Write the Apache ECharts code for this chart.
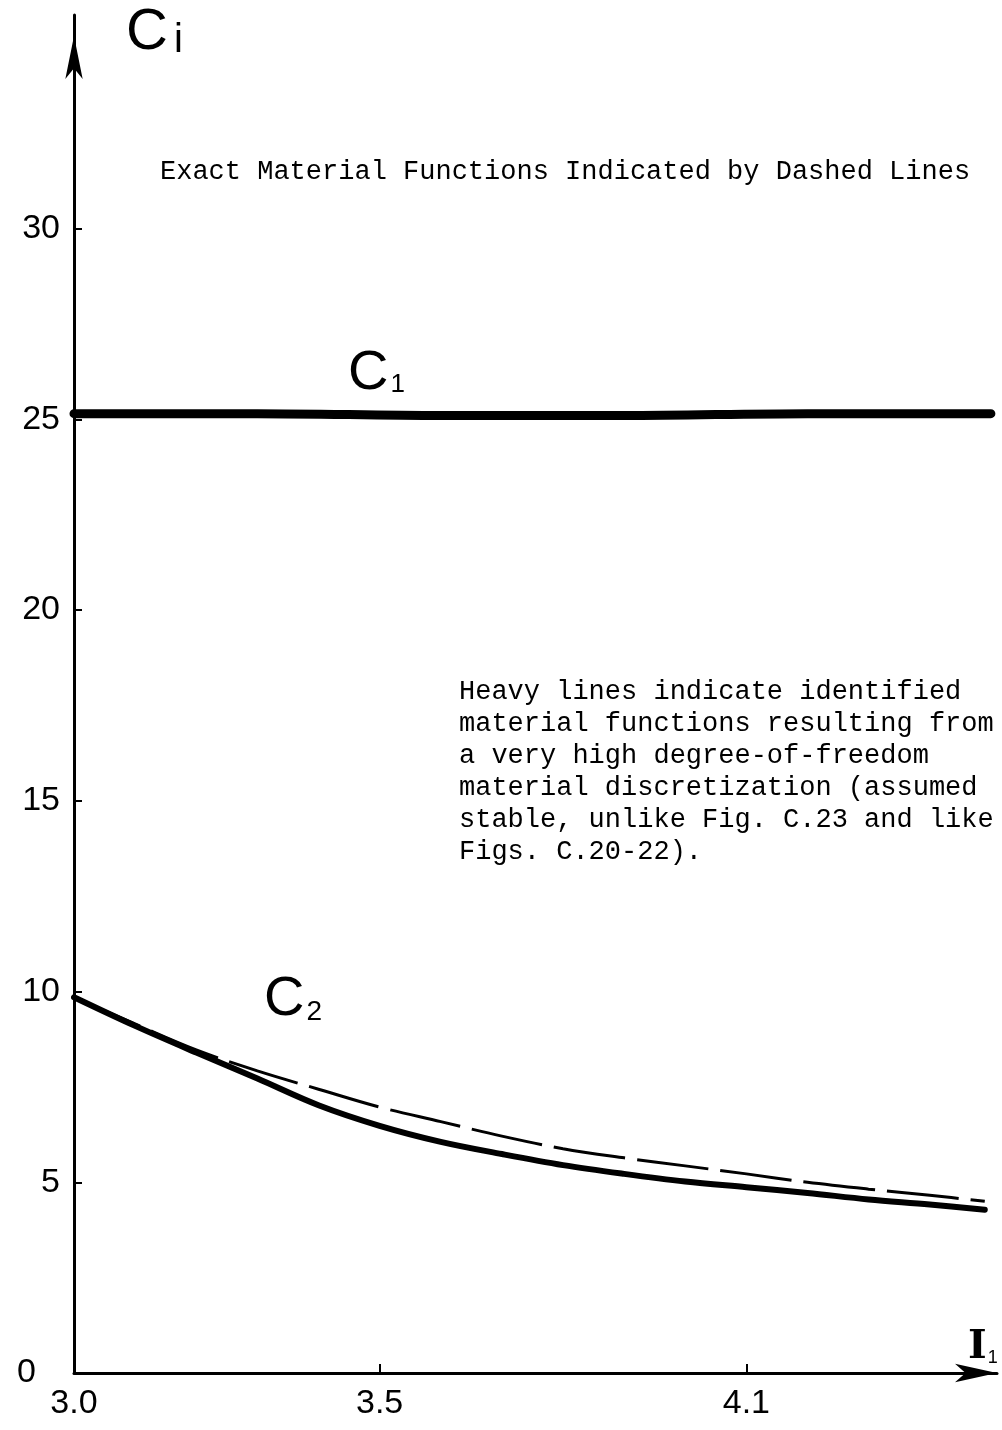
<!DOCTYPE html>
<html>
<head>
<meta charset="utf-8">
<title>Identified material functions C1, C2 vs I1</title>
<script src="https://cdn.jsdelivr.net/npm/echarts@6/dist/echarts.min.js"></script>
<style>
  html, body { margin: 0; padding: 0; background: #ffffff; }
  #chart { width: 1002px; height: 1430px; }
</style>
</head>
<body>
<div id="chart"></div>
<script>
// Invariant I1 sample points
const c1I1 = [3.0, 3.3, 3.6, 3.9, 4.2, 4.5];
const c2I1 = [3.0, 3.1, 3.2, 3.3, 3.4, 3.5, 3.6, 3.7, 3.8, 3.9, 4.0, 4.1, 4.2, 4.3, 4.4, 4.49];

// Heavy lines: identified material functions
const c1Identified = [25.15, 25.15, 25.1, 25.1, 25.15, 25.15];
const c2Identified = [9.85, 9.1, 8.4, 7.72, 7.02, 6.48, 6.06, 5.74, 5.45, 5.22, 5.02, 4.87, 4.72, 4.55, 4.42, 4.28];

// Dashed lines: exact material functions
const c1Exact = [25.1, 25.1, 25.05, 25.05, 25.1, 25.1];
const c2Exact = [9.85, 9.15, 8.47, 7.92, 7.44, 6.97, 6.59, 6.21, 5.88, 5.64, 5.43, 5.22, 5.0, 4.82, 4.66, 4.5];

// Axis ticks and labels
const xTickValues = [3.5, 4.1];
const xLabelValues = [3.0, 3.5, 4.1];
const yTickValues = [5, 10, 15, 20, 25, 30];
const yLabelValues = [0, 5, 10, 15, 20, 25, 30];

const noteTitle = 'Exact Material Functions Indicated by Dashed Lines';
const noteLines = [
  'Heavy lines indicate identified',
  'material functions resulting from',
  'a very high degree-of-freedom',
  'material discretization (assumed',
  'stable, unlike Fig. C.23 and like',
  'Figs. C.20-22).'
];

const pair = (xs, ys) => xs.map((x, i) => [x, ys[i]]);

const handFont = '"Liberation Sans", "DejaVu Sans", sans-serif';
const typeFont = '"Liberation Mono", "DejaVu Sans Mono", monospace';

const chart = echarts.init(document.getElementById('chart'), null, { renderer: 'canvas' });

const graphics = [
  {
    type: 'text', x: 126, y: 4,
    style: {
      text: '{c|C}{s|i}',
      rich: {
        c: { fontSize: 58, fontFamily: handFont, fill: '#000' },
        s: { fontSize: 40, fontFamily: handFont, fill: '#000', padding: [16, 0, 0, 6] }
      }
    }
  },
  {
    type: 'text', x: 160, y: 172,
    style: { text: noteTitle, fontSize: 27, fontFamily: typeFont, fill: '#000', verticalAlign: 'middle' }
  },
  {
    type: 'text', x: 348, y: 346,
    style: {
      text: '{c|C}{s|1}',
      rich: {
        c: { fontSize: 56, fontFamily: handFont, fill: '#000' },
        s: { fontSize: 26, fontFamily: handFont, fill: '#000', padding: [22, 0, 0, 2] }
      }
    }
  },
  {
    type: 'text', x: 264, y: 972,
    style: {
      text: '{c|C}{s|2}',
      rich: {
        c: { fontSize: 56, fontFamily: handFont, fill: '#000' },
        s: { fontSize: 28, fontFamily: handFont, fill: '#000', padding: [24, 0, 0, 2] }
      }
    }
  },
  {
    type: 'text', x: 968, y: 1328,
    style: {
      text: '{c|I}{s|1}',
      rich: {
        c: { fontSize: 40, fontFamily: '"DejaVu Serif", serif', fontWeight: 'bold', fill: '#000' },
        s: { fontSize: 18, fontFamily: handFont, fill: '#000', padding: [20, 0, 0, 1] }
      }
    }
  }
];

noteLines.forEach((line, i) => {
  graphics.push({
    type: 'text', x: 459, y: 692 + i * 32,
    style: { text: line, fontSize: 27, fontFamily: typeFont, fill: '#000', verticalAlign: 'middle' }
  });
});

const heavy = (name, data, width) => ({
  name, type: 'line', data, smooth: 0.35, showSymbol: false, symbol: 'none',
  lineStyle: { color: '#000', width, type: 'solid', cap: 'round', join: 'round' },
  z: 3, silent: true
});
const dashed = (name, data) => ({
  name, type: 'line', data, smooth: 0.35, showSymbol: false, symbol: 'none',
  lineStyle: { color: '#000', width: 3, type: [72, 12] },
  z: 2, silent: true
});

chart.setOption({
  animation: false,
  backgroundColor: '#ffffff',
  grid: { left: 74, right: 5, top: 15, bottom: 57, containLabel: false },
  xAxis: {
    type: 'value', min: 3.0, max: 4.51,
    axisLine: {
      show: true, onZero: false,
      lineStyle: { color: '#000', width: 3 },
      symbol: ['none', 'arrow'], symbolSize: [14, 42], symbolOffset: [0, 0]
    },
    axisTick: { show: true, inside: true, length: 9, lineStyle: { color: '#000', width: 2 }, customValues: xTickValues },
    axisLabel: {
      show: true, customValues: xLabelValues, margin: 14,
      fontSize: 34, fontFamily: handFont, color: '#000',
      formatter: v => v.toFixed(1)
    },
    splitLine: { show: false }
  },
  yAxis: {
    type: 'value', min: 0, max: 35.6,
    axisLine: {
      show: true, onZero: false,
      lineStyle: { color: '#000', width: 3 },
      symbol: ['none', 'arrow'], symbolSize: [13, 43], symbolOffset: [0, -21]
    },
    axisTick: { show: true, inside: true, length: 8, lineStyle: { color: '#000', width: 2 }, customValues: yTickValues },
    axisLabel: {
      show: true, customValues: yLabelValues, margin: 14,
      fontSize: 34, fontFamily: handFont, color: '#000',
      formatter: v => (v === 0 ? '{z|0}' : String(v)),
      rich: { z: { fontSize: 34, fontFamily: handFont, color: '#000', padding: [0, 24, 0, 0] } }
    },
    splitLine: { show: false }
  },
  series: [
    dashed('C1 exact', pair(c1I1, c1Exact)),
    heavy('C1 identified', pair(c1I1, c1Identified), 9),
    dashed('C2 exact', pair(c2I1, c2Exact)),
    heavy('C2 identified', pair(c2I1, c2Identified), 6)
  ],
  graphic: graphics
});
</script>
</body>
</html>
